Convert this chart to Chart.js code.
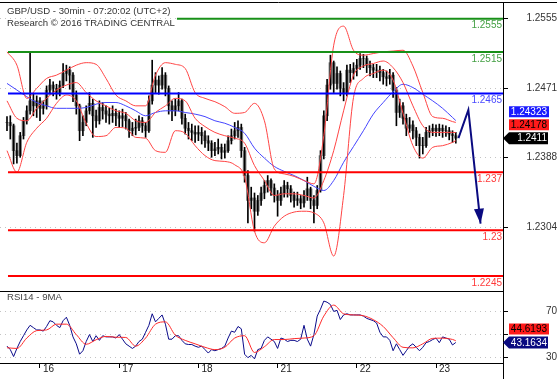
<!DOCTYPE html>
<html>
<head>
<meta charset="utf-8">
<script src="https://cdn.jsdelivr.net/npm/chart.js@4.4.0/dist/chart.umd.min.js"></script>
<style>
  body { margin: 0; background: #fff; width: 557px; height: 379px; overflow: hidden; position: relative; font-family: "Liberation Sans", Arial, sans-serif; }
  #main { position: absolute; left: 0; top: 0; }
  #rsi { position: absolute; left: 0; top: 291px; }
  .lbl { position: absolute; font-size: 9.6px; line-height: 12px; color: #333; white-space: nowrap; }
</style>
</head>
<body>
<canvas id="main" width="557" height="292"></canvas>
<canvas id="rsi" width="557" height="88"></canvas>
<div class="lbl" style="left:7px;top:5px">GBP/USD - 30min - 07:20:02 (UTC+2)</div>
<div class="lbl" style="left:7px;top:17px">Research © 2016 TRADING CENTRAL</div>
<div class="lbl" style="left:7px;top:291px;color:#444">RSI14 - 9MA</div>
<script>
// hourly bars, hour 0 = start of the 16th
const firstHour = -10;
const closes = [
  1.2430,1.2426,1.2396,1.2390,1.2414,1.2432,1.2444,1.2456,1.2450,1.2456,
  1.2447,1.2450,1.2469,1.2475,1.2471,1.2466,1.2475,1.2489,1.2493,1.2487,
  1.2463,1.2450,1.2420,1.2430,1.2444,1.2453,1.2438,1.2432,1.2448,1.2444,
  1.2440,1.2438,1.2441,1.2438,1.2435,1.2438,1.2432,1.2420,1.2423,1.2424,
  1.2432,1.2426,1.2420,1.2456,1.2475,1.2481,1.2475,1.2487,1.2471,1.2450,
  1.2444,1.2450,1.2456,1.2435,1.2423,1.2420,1.2418,1.2416,1.2418,1.2414,
  1.2408,1.2405,1.2396,1.2398,1.2400,1.2394,1.2396,1.2408,1.2414,1.2420,
  1.2424,1.2396,1.2366,1.2336,1.2339,1.2323,1.2336,1.2345,1.2354,1.2360,
  1.2351,1.2342,1.2336,1.2345,1.2354,1.2350,1.2342,1.2336,1.2338,1.2333,
  1.2342,1.2350,1.2336,1.2330,1.2348,1.2390,1.2438,1.2475,1.2502,1.2477,
  1.2489,1.2471,1.2465,1.2493,1.2490,1.2495,1.2499,1.2507,1.2507,1.2499,
  1.2496,1.2493,1.2493,1.2490,1.2485,1.2483,1.2487,1.2469,1.2442,1.2450,
  1.2435,1.2423,1.2427,1.2420,1.2412,1.2402,1.2402,1.2418,1.2420,1.2423,
  1.2420,1.2423,1.2420,1.2420,1.2416,1.2414,1.2411
];
const highs = [
  1.2437,1.2438,1.2428,1.2405,1.2418,1.2436,1.2450,1.2515,1.2465,1.2462,
  1.2460,1.2456,1.2474,1.2482,1.2479,1.2476,1.2480,1.2501,1.2499,1.2497,
  1.2490,1.2468,1.2452,1.2438,1.2450,1.2466,1.2458,1.2445,1.2456,1.2454,
  1.2450,1.2447,1.2450,1.2446,1.2444,1.2446,1.2442,1.2434,1.2430,1.2434,
  1.2438,1.2436,1.2430,1.2462,1.2505,1.2490,1.2486,1.2496,1.2490,1.2474,
  1.2456,1.2458,1.2466,1.2458,1.2440,1.2430,1.2428,1.2426,1.2426,1.2424,
  1.2420,1.2414,1.2408,1.2406,1.2410,1.2404,1.2404,1.2414,1.2422,1.2430,
  1.2432,1.2428,1.2400,1.2372,1.2352,1.2345,1.2342,1.2352,1.2360,1.2366,
  1.2362,1.2356,1.2348,1.2352,1.2360,1.2358,1.2354,1.2346,1.2346,1.2342,
  1.2348,1.2364,1.2352,1.2342,1.2354,1.2396,1.2444,1.2482,1.2511,1.2504,
  1.2497,1.2492,1.2478,1.2499,1.2500,1.2502,1.2506,1.2513,1.2512,1.2510,
  1.2504,1.2500,1.2500,1.2498,1.2494,1.2492,1.2494,1.2490,1.2472,1.2458,
  1.2454,1.2440,1.2436,1.2432,1.2424,1.2416,1.2412,1.2424,1.2426,1.2428,
  1.2427,1.2428,1.2427,1.2426,1.2424,1.2420,1.2418
];
const lows = [
  1.2420,1.2410,1.2380,1.2381,1.2388,1.2410,1.2428,1.2440,1.2438,1.2436,
  1.2432,1.2440,1.2446,1.2464,1.2462,1.2458,1.2462,1.2472,1.2480,1.2470,
  1.2455,1.2440,1.2408,1.2414,1.2426,1.2440,1.2412,1.2424,1.2428,1.2434,
  1.2430,1.2428,1.2430,1.2426,1.2424,1.2425,1.2422,1.2412,1.2414,1.2415,
  1.2420,1.2418,1.2412,1.2418,1.2452,1.2466,1.2464,1.2470,1.2462,1.2440,
  1.2432,1.2438,1.2444,1.2428,1.2416,1.2410,1.2408,1.2406,1.2408,1.2404,
  1.2400,1.2396,1.2388,1.2390,1.2392,1.2386,1.2387,1.2394,1.2404,1.2410,
  1.2412,1.2388,1.2358,1.2309,1.2326,1.2299,1.2318,1.2330,1.2338,1.2346,
  1.2342,1.2334,1.2317,1.2330,1.2340,1.2340,1.2334,1.2328,1.2330,1.2326,
  1.2328,1.2336,1.2326,1.2309,1.2326,1.2346,1.2386,1.2432,1.2470,1.2466,
  1.2470,1.2462,1.2456,1.2462,1.2478,1.2482,1.2486,1.2494,1.2496,1.2490,
  1.2486,1.2484,1.2484,1.2480,1.2476,1.2474,1.2476,1.2460,1.2426,1.2436,
  1.2428,1.2414,1.2418,1.2410,1.2402,1.2387,1.2392,1.2400,1.2412,1.2414,
  1.2413,1.2414,1.2412,1.2413,1.2409,1.2406,1.2405
];
const rsi14 = [
  40,37,31,38,44,49,54,58,56,54,
  54,53,57,62,61,58,56,62,65,58,
  48,42,33,36,44,50,44,49,45,49,
  48,48,48,47,50,46,42,40,38,40,
  44,46,52,58,68,61,64,67,59,46,
  46,49,49,45,42,41.4,41.4,40,39,40,
  37,34,37,36,37,38,40,47,53,52,
  57,55,33,30,32,29,37,38,45,48,
  46,44,38,47,46,44,45,45,44,46,
  58,46,40,50,66,72,79,78,76,70,
  71,63,67,68,67,67,67,67,66,64,
  63,62,60,52,48,48,45,36,42,37,
  32,36,40,42,39,36,39,43,44,45.7,
  47,43,48,47,46,41,43.1634
];

// indicator lines, read every 3 hours
const lineHours = [-10,-7,-4,-1,2,5,8,11,14,17,20,23,26,29,32,35,38,41,44,47,50,53,56,59,62,65,68,71,74,77,80,83,86,89,92,95,98,101,104,107,110,113,116,119,122,125,126];
const bbUpper = [1.2515,1.2499,1.2459,1.2471,1.2483,1.2487,1.2493,1.2499,1.2502,1.2500,1.2483,1.2463,1.2456,1.2450,1.2450,1.2487,1.2502,1.2500,1.2495,1.2466,1.2459,1.2455,1.2449,1.2441,1.2442,1.2453,1.2432,1.2374,1.2368,1.2365,1.2360,1.2356,1.2414,1.2523,1.2546,1.2517,1.2511,1.2513,1.2515,1.2516,1.2517,1.2498,1.2466,1.2437,1.2435,1.2431,1.2430];
const bbMiddle = [1.2456,1.2435,1.2432,1.2447,1.2459,1.2469,1.2475,1.2478,1.2466,1.2456,1.2450,1.2444,1.2441,1.2432,1.2430,1.2442,1.2450,1.2459,1.2456,1.2435,1.2425,1.2418,1.2414,1.2411,1.2405,1.2378,1.2360,1.2342,1.2344,1.2344,1.2342,1.2339,1.2360,1.2396,1.2444,1.2487,1.2498,1.2501,1.2504,1.2496,1.2478,1.2450,1.2426,1.2418,1.2418,1.2418,1.24178];
const bbLower = [1.2396,1.2370,1.2406,1.2423,1.2435,1.2453,1.2463,1.2456,1.2429,1.2413,1.2414,1.2424,1.2423,1.2412,1.2411,1.2396,1.2394,1.2420,1.2417,1.2402,1.2390,1.2384,1.2383,1.2379,1.2364,1.2299,1.2285,1.2305,1.2317,1.2322,1.2323,1.2321,1.2309,1.2269,1.2342,1.2460,1.2483,1.2489,1.2493,1.2481,1.2441,1.2402,1.2387,1.2400,1.2402,1.2406,1.2408];
const ma = [1.2477,1.2469,1.2461,1.2454,1.2450,1.2447,1.2447,1.2447,1.2448,1.2452,1.2454,1.2454,1.2450,1.2444,1.2438,1.2442,1.2444,1.2444,1.2442,1.2440,1.2437,1.2432,1.2429,1.2424,1.2417,1.2399,1.2387,1.2377,1.2371,1.2366,1.2360,1.2353,1.2348,1.2360,1.2382,1.2401,1.2420,1.2440,1.2454,1.2467,1.2476,1.2472,1.2464,1.2456,1.2447,1.2436,1.24323];
const rsiMa = [38.6,38,47,53.4,54,59,59,50,41.6,45.5,48.4,47.7,47.5,40,47,59,61,49.5,45,42,39,37,39,47,49,34.5,39.5,45.7,45.7,46.5,47,49,66,75.5,68,67,66.3,62.9,57,47.3,39,38.5,42,46.7,46.9,45.8,44.6193];

// support / resistance levels
const levels = [1.2555, 1.2515, 1.2465, 1.237, 1.23, 1.2245];
const levelNames = ['1.2555', '1.2515', '1.2465', '1.237', '1.23', '1.2245'];
const levelStart = [41.5, -9.7, -9.7, -9.7, -9.7, -9.7];
const levelColors = ['#189018', '#189018', '#0000ff', '#ff0000', '#ff0000', '#ff0000'];
const levelTextColors = ['#44a044', '#44a044', '#4a4aff', '#ff3a3a', '#ff3a3a', '#ff3a3a'];

// forecast path
const projHours = [126.8, 129.8, 133.5];
const projPrices = [1.2411, 1.2445, 1.2308];

const dayHours = [0, 24, 48, 72, 96, 120];
const dayLabels = ['16', '17', '18', '21', '22', '23'];
const priceTicks = [1.2304, 1.2388, 1.2471, 1.2555];
const rsiTicks = [30, 50, 70];
const rsiTickLabels = ['30', '', '70'];

const X_MIN = -12.12, X_MAX = 140.3;

Chart.defaults.font.family = '"Liberation Sans", Arial, sans-serif';
Chart.defaults.font.size = 10;
Chart.defaults.color = '#333';

const hourOf = (k) => firstHour + k;
const bodies = closes.map((c, k) => ({ x: hourOf(k), y: [k ? closes[k - 1] : c, c] }));
const wicks = closes.map((c, k) => ({ x: hourOf(k), y: [lows[k], highs[k]] }));
const pts = (arr) => arr.map((v, k) => ({ x: lineHours[k], y: v }));

// scales add label padding around themselves; the panels here must fill the canvas
const noPad = (s) => { s.paddingTop = 0; s.paddingBottom = 0; s.paddingLeft = 0; s.paddingRight = 0; };

const levelSets = levels.map((v, k) => ({
  type: 'line',
  data: [{ x: levelStart[k], y: v }, { x: X_MAX, y: v }],
  borderColor: levelColors[k],
  borderWidth: 2,
  pointRadius: 0,
  order: 2
}));

const bandLine = (arr, color) => ({
  type: 'line', data: pts(arr), borderColor: color, borderWidth: 1,
  pointRadius: 0, cubicInterpolationMode: 'monotone', order: 3
});

const valueBox = (ctx, text, cy, fill, textColor, pointer) => {
  ctx.save();
  ctx.fillStyle = fill;
  ctx.beginPath();
  if (pointer) {
    ctx.moveTo(503, cy);
    ctx.lineTo(509, cy - 6);
    ctx.lineTo(548, cy - 6);
    ctx.lineTo(548, cy + 6);
    ctx.lineTo(509, cy + 6);
    ctx.closePath();
  } else {
    ctx.rect(509, cy - 5.5, 40, 11);
  }
  ctx.fill();
  ctx.fillStyle = textColor;
  ctx.font = '10px "Liberation Sans", Arial, sans-serif';
  ctx.textAlign = 'right';
  ctx.textBaseline = 'middle';
  ctx.fillText(text, 547, cy + 0.5);
  ctx.restore();
};

const mainDecor = {
  id: 'mainDecor',
  afterDatasetsDraw(chart) {
    const { ctx, chartArea, scales } = chart;
    // level labels
    ctx.save();
    ctx.font = '10px "Liberation Sans", Arial, sans-serif';
    ctx.textAlign = 'right';
    ctx.textBaseline = 'middle';
    levels.forEach((v, k) => {
      ctx.fillStyle = levelTextColors[k];
      ctx.fillText(levelNames[k], chartArea.right - 1, scales.y.getPixelForValue(v) + 7);
    });
    ctx.restore();
    // arrow head at end of forecast
    const meta = chart.getDatasetMeta(chart.data.datasets.length - 1);
    const a = meta.data[meta.data.length - 2], b = meta.data[meta.data.length - 1];
    const ang = Math.atan2(b.y - a.y, b.x - a.x);
    const L = 15, W = 5;
    const cx = b.x - L * Math.cos(ang), cy = b.y - L * Math.sin(ang);
    ctx.save();
    ctx.fillStyle = '#0a0a80';
    ctx.beginPath();
    ctx.moveTo(b.x, b.y);
    ctx.lineTo(cx + W * Math.sin(ang), cy - W * Math.cos(ang));
    ctx.lineTo(cx - W * Math.sin(ang), cy + W * Math.cos(ang));
    ctx.closePath();
    ctx.fill();
    ctx.restore();
  },
  afterDraw(chart) {
    const { ctx, chartArea, scales } = chart;
    ctx.save();
    ctx.strokeStyle = '#000';
    ctx.lineWidth = 1;
    ctx.beginPath();
    ctx.moveTo(0, chartArea.top + 0.5); ctx.lineTo(chart.width, chartArea.top + 0.5);
    ctx.moveTo(0, chartArea.bottom + 0.5); ctx.lineTo(chartArea.right, chartArea.bottom + 0.5);
    ctx.stroke();
    ctx.restore();
    // value boxes, stacked upward so they do not overlap
    const last = closes[closes.length - 1];
    const mid = bbMiddle[bbMiddle.length - 1];
    const avg = ma[ma.length - 1];
    const yLast = scales.y.getPixelForValue(last);
    const yMid = Math.min(scales.y.getPixelForValue(mid), yLast - 6 - 2 - 5.5);
    const yAvg = Math.min(scales.y.getPixelForValue(avg), yMid - 5.5 - 2 - 5.5);
    valueBox(ctx, avg.toFixed(5), yAvg, '#1a1aff', '#fff', false);
    valueBox(ctx, mid.toFixed(5), yMid, '#ff1a1a', '#000', false);
    valueBox(ctx, last.toFixed(4), yLast, '#000', '#fff', true);
  }
};

new Chart(document.getElementById('main'), {
  type: 'bar',
  data: {
    datasets: [
      { type: 'bar', data: bodies, backgroundColor: '#858585', barThickness: 3, grouped: false, order: 6 },
      { type: 'bar', data: wicks, backgroundColor: '#000', barThickness: 1, grouped: false, order: 5 },
      bandLine(bbUpper, '#ff4444'),
      bandLine(bbMiddle, '#ff4444'),
      bandLine(bbLower, '#ff4444'),
      bandLine(ma, '#4444ff'),
      ...levelSets,
      { type: 'line', data: projPrices.map((v, k) => ({ x: projHours[k], y: v })), borderColor: '#0a0a80', borderWidth: 2, pointRadius: 0, order: 1 }
    ]
  },
  options: {
    responsive: false,
    animation: false,
    devicePixelRatio: 1,
    layout: { padding: { top: 2, bottom: 1, left: 0, right: 0 } },
    plugins: { legend: { display: false }, tooltip: { enabled: false } },
    scales: {
      x: { type: 'linear', min: X_MIN, max: X_MAX, offset: false, display: false },
      y: {
        position: 'right', min: 1.22269, max: 1.25751,
        afterFit: (s) => { s.width = 54; noPad(s); },
        afterBuildTicks: (s) => { s.ticks = priceTicks.map((v) => ({ value: v })); },
        ticks: { crossAlign: 'far', padding: 8.4, color: '#333', callback: (v) => v.toFixed(4) },
        grid: { color: '#c4c4c4', tickLength: 5, tickColor: '#000', tickWidth: 1, tickBorderDash: [] },
        border: { display: true, color: '#000', width: 1, dash: [1, 4] }
      }
    }
  },
  plugins: [mainDecor]
});

const rsiDecor = {
  id: 'rsiDecor',
  afterDraw(chart) {
    const { ctx, chartArea, scales } = chart;
    ctx.save();
    ctx.strokeStyle = '#000';
    ctx.lineWidth = 1;
    ctx.beginPath();
    ctx.moveTo(0, chartArea.bottom + 0.5); ctx.lineTo(chartArea.right, chartArea.bottom + 0.5);
    ctx.moveTo(chartArea.right + 0.5, 0); ctx.lineTo(chartArea.right + 0.5, chart.height);
    ctx.stroke();
    ctx.restore();
    const r = rsi14[rsi14.length - 1];
    const m = rsiMa[rsiMa.length - 1];
    const yR = scales.y.getPixelForValue(r);
    const yM = Math.min(scales.y.getPixelForValue(m), yR - 6 - 2 - 5.5);
    valueBox(ctx, m.toFixed(4), yM, '#ff1a1a', '#000', false);
    valueBox(ctx, r.toFixed(4), yR, '#0a0a80', '#fff', true);
  }
};

new Chart(document.getElementById('rsi'), {
  type: 'line',
  data: {
    datasets: [
      { data: rsiMa.map((v, k) => ({ x: lineHours[k], y: v })), borderColor: '#ff2a2a', borderWidth: 1, pointRadius: 0, cubicInterpolationMode: 'monotone' },
      { data: rsi14.map((v, k) => ({ x: hourOf(k), y: v })), borderColor: '#0a0a8a', borderWidth: 1, pointRadius: 0, tension: 0 }
    ]
  },
  options: {
    responsive: false,
    animation: false,
    devicePixelRatio: 1,
    layout: { padding: 0 },
    plugins: { legend: { display: false }, tooltip: { enabled: false } },
    scales: {
      x: {
        type: 'linear', min: X_MIN, max: X_MAX, offset: false, position: 'bottom',
        afterFit: (s) => { s.height = 16; noPad(s); },
        afterBuildTicks: (s) => { s.ticks = dayHours.map((v) => ({ value: v })); },
        ticks: { align: 'start', labelOffset: 3, padding: -5, maxRotation: 0, autoSkip: false, color: '#222', callback: (v, i) => dayLabels[i] },
        grid: { drawOnChartArea: false, tickLength: 5, tickColor: '#000', tickWidth: 1 },
        border: { display: true, color: '#000' }
      },
      y: {
        position: 'right', min: 25.4, max: 87.7,
        afterFit: (s) => { s.width = 54; noPad(s); },
        afterBuildTicks: (s) => { s.ticks = rsiTicks.map((v) => ({ value: v })); },
        ticks: { crossAlign: 'far', padding: 28, color: '#333', callback: (v, i) => rsiTickLabels[i] },
        grid: { color: '#c4c4c4', tickLength: 5, tickColor: '#000', tickWidth: 1, tickBorderDash: [] },
        border: { display: true, color: '#000', width: 1, dash: [1, 4] }
      }
    }
  },
  plugins: [rsiDecor]
});
</script>
</body>
</html>
